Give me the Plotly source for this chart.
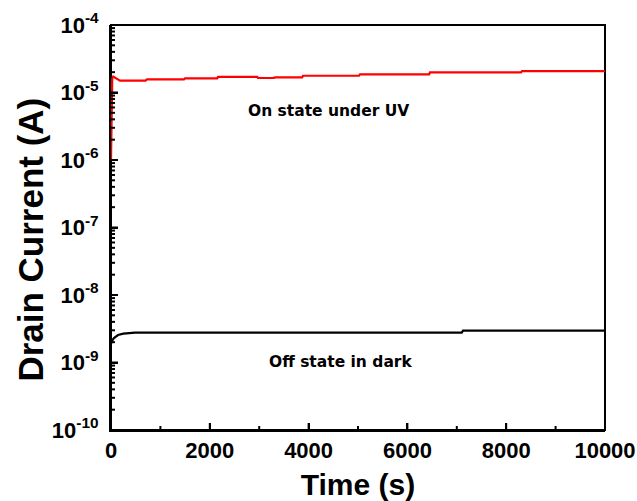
import plotly.graph_objects as go

# ON state under UV (red)
on_t = [0, 10, 25, 45, 80, 130, 182, 700, 729, 1480, 1498, 2150, 2166, 2960, 2976, 3300, 3320, 3870, 3887, 5020, 5040, 6440, 6457, 8300, 8320, 10000]
on_i = [1.0e-6, 1.0e-5, 1.6e-5, 1.72e-5, 1.66e-5, 1.54e-5, 1.50e-5, 1.50e-5, 1.57e-5, 1.57e-5, 1.62e-5, 1.62e-5, 1.70e-5, 1.70e-5, 1.64e-5, 1.64e-5, 1.68e-5, 1.68e-5, 1.77e-5, 1.77e-5, 1.86e-5, 1.86e-5, 1.99e-5, 1.99e-5, 2.08e-5, 2.08e-5]

# OFF state in dark (black)
off_t = [0, 20, 60, 100, 142, 250, 350, 486, 7100, 7126, 10000]
off_i = [1.9e-9, 2.1e-9, 2.3e-9, 2.45e-9, 2.55e-9, 2.68e-9, 2.74e-9, 2.78e-9, 2.78e-9, 2.96e-9, 2.96e-9]

y_exps = [-10, -9, -8, -7, -6, -5, -4]
y_ticktext = ["10<sup>%d</sup>" % e for e in y_exps]
y_tickvals = [10.0 ** e for e in y_exps]
y_minorvals = [m * 10.0 ** e for e in y_exps[:-1] for m in range(2, 10)]

x_tickvals = [0, 2000, 4000, 6000, 8000, 10000]
x_minorvals = [1000, 3000, 5000, 7000, 9000]

tick_font = dict(family="Liberation Sans", size=22, color="black", weight="bold")

fig = go.Figure()
fig.add_trace(go.Scatter(x=on_t, y=on_i, mode="lines", line=dict(color="#ff0000", width=2.2), showlegend=False))
fig.add_trace(go.Scatter(x=off_t, y=off_i, mode="lines", line=dict(color="black", width=2.2), showlegend=False))

fig.update_layout(
    width=637, height=501,
    margin=dict(l=111, r=32, t=25, b=71),
    plot_bgcolor="rgba(0,0,0,0)", paper_bgcolor="white",
    showlegend=False,
)
fig.update_xaxes(
    range=[0, 10000], showgrid=False, zeroline=False, automargin=False,
    showline=True, linecolor="black", linewidth=2,
    ticks="inside", ticklen=7, tickwidth=2, tickcolor="black",
    tickmode="array", tickvals=x_tickvals, ticktext=[str(v) for v in x_tickvals],
    tickfont=tick_font,
    title=dict(text="Time (s)", font=dict(family="Liberation Sans", size=30, color="black", weight="bold"), standoff=12),
)
fig.update_yaxes(
    type="log", range=[-10, -4], showgrid=False, zeroline=False, automargin=False,
    showline=True, linecolor="black", linewidth=2,
    ticks="inside", ticklen=7, tickwidth=2, tickcolor="black",
    tickmode="array", tickvals=y_tickvals, ticktext=y_ticktext,
    tickfont=tick_font, ticklabelstandoff=6,
)

# tick marks placed through the axis scales (data positions, pixel lengths)
for v in x_tickvals + x_minorvals:
    ln = 7 if v in x_tickvals else 4
    fig.add_shape(type="line", xref="x", yref="paper", ysizemode="pixel", yanchor=0,
                  x0=v, x1=v, y0=0, y1=ln, line=dict(color="black", width=2), layer="above")
for v in y_tickvals + y_minorvals:
    ln = 7 if v in y_tickvals else 4
    fig.add_shape(type="line", xref="paper", yref="y", xsizemode="pixel", xanchor=0,
                  x0=0, x1=ln, y0=v, y1=v, line=dict(color="black", width=2), layer="above")

# plot frame (top and right edges), drawn below everything else
fig.add_shape(type="rect", xref="paper", yref="paper", x0=0, x1=1, y0=0, y1=1,
              line=dict(color="black", width=2), fillcolor="rgba(0,0,0,0)", layer="below")

fig.add_annotation(x=-0.162, y=0.47, xref="paper", yref="paper", xanchor="center", yanchor="middle",
                   text="Drain Current (A)", showarrow=False, textangle=-90,
                   font=dict(family="Liberation Sans", size=35, color="black", weight="bold"))
fig.add_annotation(x=4393, y=-5.274, xref="x", yref="y", text="On state under UV", showarrow=False,
                   font=dict(family="DejaVu Sans", size=15.5, color="black", weight="bold"))
fig.add_annotation(x=4636, y=-8.993, xref="x", yref="y", text="Off state in dark", showarrow=False,
                   font=dict(family="DejaVu Sans", size=15.5, color="black", weight="bold"))

fig.write_html("out.html")
